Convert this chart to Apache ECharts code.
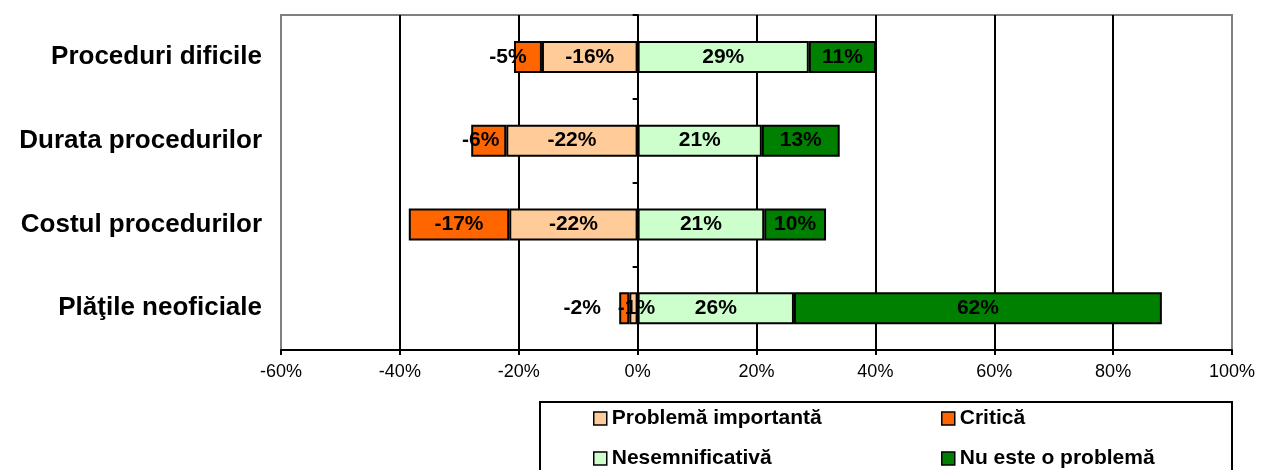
<!DOCTYPE html>
<html>
<head>
<meta charset="utf-8">
<script src="https://cdn.jsdelivr.net/npm/echarts@6/dist/echarts.min.js"></script>
<style>
  html, body { margin: 0; padding: 0; background: #fff; }
  #chart { width: 1261px; height: 470px; }
</style>
</head>
<body>
<div id="chart"></div>
<script>
// categories, top to bottom
const categories = ['Proceduri dificile', 'Durata procedurilor', 'Costul procedurilor', 'Plăţile neoficiale'];

// percentages (negatives drawn left of zero)
const importanta = [-16.1, -22.1, -21.6, -1.4];
const critica = [-4.7, -5.9, -16.9, -1.7];
const nesemnificativa = [28.8, 20.9, 21.3, 26.3];
const nuEsteProblema = [11.3, 13.1, 10.4, 61.9];

// x axis ticks
const xMin = -60;
const xMax = 100;
const xStep = 20;

const FONT = 'Arial, "Liberation Sans", sans-serif';

// label nudges (px) copied from the original layout
const critOffsets = [-20, -8, 0, -42];
const impOffsets = [0, 0, 0, 3];

function withOffsets(values, offsets) {
  return values.map((v, i) => ({ value: v, label: { offset: [offsets ? offsets[i] : 0, 0] } }));
}

function barSeries(name, values, color, offsets) {
  return {
    name: name,
    type: 'bar',
    stack: 'total',
    barWidth: 32,
    data: withOffsets(values, offsets),
    itemStyle: { color: color, borderColor: '#000', borderWidth: 2 },
    label: {
      show: true,
      position: 'inside',
      color: '#000',
      fontFamily: FONT,
      fontWeight: 'bold',
      fontSize: 21,
      formatter: p => Math.round(p.value) + '%'
    }
  };
}

const chart = echarts.init(document.getElementById('chart'));

const legendCommon = {
  orient: 'vertical',
  top: 408,
  padding: 0,
  itemWidth: 13,
  itemHeight: 13,
  itemGap: 19,
  icon: 'rect',
  selectedMode: false,
  itemStyle: { borderColor: '#000', borderWidth: 1.5 },
  textStyle: { color: '#000', fontFamily: FONT, fontWeight: 'bold', fontSize: 21, lineHeight: 20 }
};

chart.setOption({
  animation: false,
  textStyle: { fontFamily: FONT },
  grid: {
    left: 281,
    right: 29,
    top: 15,
    bottom: 120,
    show: true,
    borderColor: '#808080',
    borderWidth: 2,
    backgroundColor: 'transparent'
  },
  graphic: [{
    type: 'rect',
    shape: { x: 540, y: 402, width: 692, height: 90 },
    style: { fill: 'none', stroke: '#000', lineWidth: 2 },
    z: 1
  }],
  legend: [
    Object.assign({ left: 593, data: ['Problemă importantă', 'Nesemnificativă'] }, legendCommon),
    Object.assign({ left: 941, data: ['Critică', 'Nu este o problemă'] }, legendCommon)
  ],
  xAxis: {
    type: 'value',
    min: xMin,
    max: xMax,
    interval: xStep,
    axisLine: { show: true, lineStyle: { color: '#000', width: 2 } },
    axisTick: { show: true, length: 5, lineStyle: { color: '#000', width: 2 } },
    axisLabel: { color: '#000', fontSize: 18, margin: 13, formatter: '{value}%' },
    splitLine: { show: true, showMinLine: false, showMaxLine: false, lineStyle: { color: '#000', width: 2 } }
  },
  yAxis: [{
    type: 'category',
    data: categories,
    inverse: true,
    position: 'left',
    axisLine: { show: false, onZero: false },
    axisTick: { show: false },
    axisLabel: { color: '#000', fontSize: 26, fontWeight: 'bold', margin: 19 }
  }, {
    type: 'category',
    data: categories,
    inverse: true,
    position: 'left',
    axisLine: { show: true, onZero: true, lineStyle: { color: '#000', width: 2 } },
    axisTick: { show: true, length: 5, lineStyle: { color: '#000', width: 2 } },
    axisLabel: { show: false }
  }],
  series: [
    barSeries('Problemă importantă', importanta, '#FFCC99', impOffsets),
    barSeries('Critică', critica, '#FF6600', critOffsets),
    barSeries('Nesemnificativă', nesemnificativa, '#CCFFCC'),
    barSeries('Nu este o problemă', nuEsteProblema, '#008000')
  ]
});
</script>
</body>
</html>
